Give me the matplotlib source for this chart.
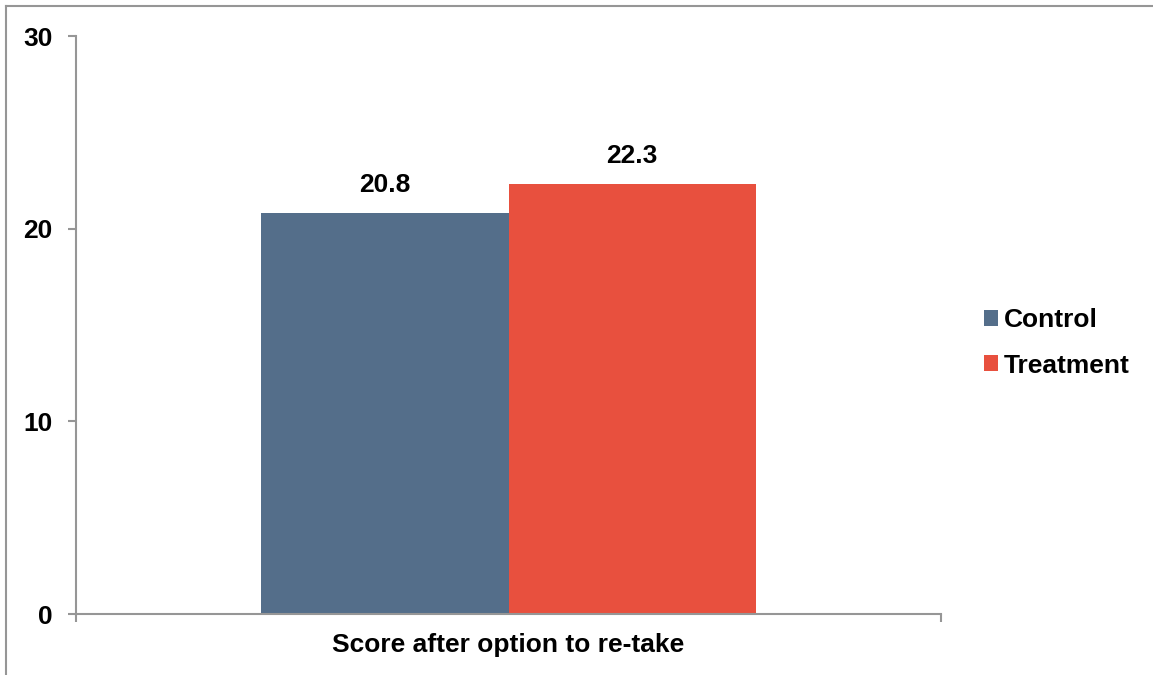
import matplotlib.pyplot as plt
from matplotlib.lines import Line2D

plt.rcParams['font.family'] = ['Liberation Sans', 'DejaVu Sans']

category = 'Score after option to re-take'
groups = ['Control', 'Treatment']
values = [20.8, 22.3]
colors = ['#546E8A', '#E8503E']

fs = 19

fig = plt.figure(figsize=(11.53, 6.75), dpi=100)
ax = fig.add_axes([76/1153, 1 - 614/675, (941 - 76)/1153, (614 - 36)/675])

width = 0.286
offsets = [-width/2, width/2]
for g, v, c, off in zip(groups, values, colors, offsets):
    ax.bar(off, v, width=width, color=c, label=g, zorder=2)
    ax.text(off, v + 0.85, f'{v:.1f}', ha='center', va='bottom',
            fontsize=fs, fontweight='bold')

ax.set_xlim(-0.5, 0.5)
ax.set_ylim(0, 30)
ax.set_yticks([0, 10, 20, 30])
ax.set_xticks([-0.5, 0.5])
ax.set_xticklabels(['', ''])
ax.tick_params(axis='y', labelsize=fs, length=6, width=1.5, color='#969696', pad=11)
ax.tick_params(axis='x', length=6, width=1.5, color='#969696')
for lab in ax.get_yticklabels():
    lab.set_fontweight('bold')
ax.set_xlabel(category, fontsize=fs, fontweight='bold', labelpad=4)

for s in ['top', 'right']:
    ax.spines[s].set_visible(False)
for s in ['left', 'bottom']:
    ax.spines[s].set_color('#969696')
    ax.spines[s].set_linewidth(1.5)

leg = fig.legend(loc='center left', bbox_to_anchor=(960/1153, 1 - 343/675),
                 frameon=False, prop={'size': fs, 'weight': 'bold'},
                 handlelength=0.55, handleheight=0.55, handletextpad=0.22,
                 labelspacing=0.8)

# outer frame lines (top and left)
fig.add_artist(Line2D([6/1153, 1], [1 - 6/675, 1 - 6/675], color='#969696', lw=1.5,
                      transform=fig.transFigure))
fig.add_artist(Line2D([6/1153, 6/1153], [0, 1 - 6/675], color='#969696', lw=1.5,
                      transform=fig.transFigure))

fig.savefig('out.png', dpi=100)
